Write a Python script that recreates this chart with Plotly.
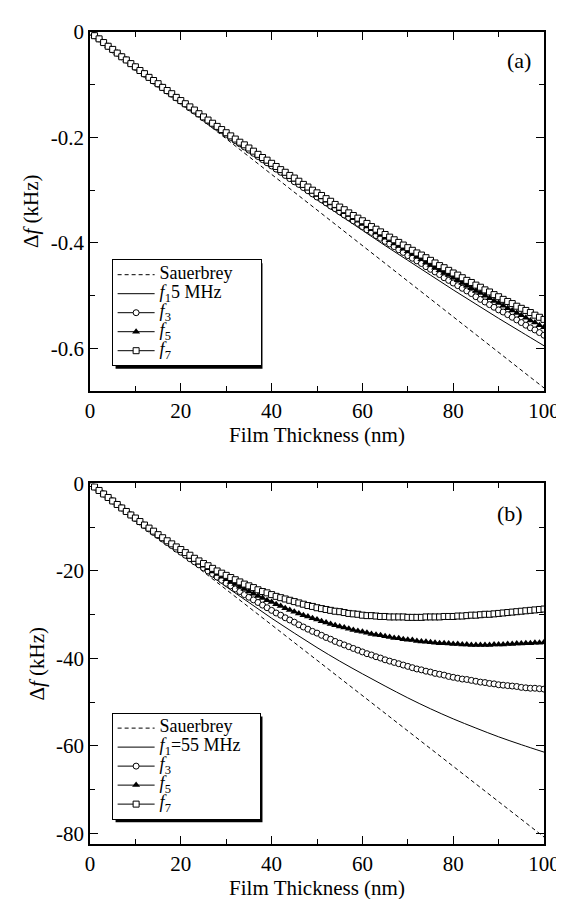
import plotly.graph_objects as go

# ---------------- data ----------------
thickness = list(range(0, 101))          # nm, marker series sampled every 1 nm
thick_f1 = list(range(0, 101, 5))        # nm, f1 line
thick_sauer = [0, 100]

# panel (a): kHz
a_sauerbrey = [0.0, -0.675]
a_f1 = [0, -0.034, -0.067, -0.100, -0.132, -0.164, -0.195, -0.227, -0.257, -0.288, -0.318,
        -0.347, -0.376, -0.405, -0.433, -0.461, -0.489, -0.516, -0.543, -0.569, -0.595]
a_f3 = [0, -0.007, -0.013, -0.020, -0.027, -0.034, -0.040, -0.047, -0.053, -0.060,
        -0.067, -0.073, -0.080, -0.086, -0.093, -0.099, -0.105, -0.112, -0.118, -0.125,
        -0.131, -0.137, -0.144, -0.150, -0.156, -0.163, -0.169, -0.175, -0.181, -0.187,
        -0.194, -0.200, -0.206, -0.212, -0.218, -0.224, -0.230, -0.236, -0.242, -0.248,
        -0.254, -0.260, -0.266, -0.272, -0.278, -0.284, -0.289, -0.295, -0.301, -0.307,
        -0.313, -0.318, -0.324, -0.330, -0.335, -0.341, -0.347, -0.352, -0.358, -0.363,
        -0.369, -0.375, -0.380, -0.386, -0.391, -0.397, -0.402, -0.407, -0.413, -0.418,
        -0.424, -0.429, -0.434, -0.439, -0.445, -0.450, -0.455, -0.460, -0.466, -0.471,
        -0.476, -0.481, -0.486, -0.491, -0.496, -0.502, -0.507, -0.512, -0.517, -0.522,
        -0.527, -0.531, -0.536, -0.541, -0.546, -0.551, -0.556, -0.561, -0.565, -0.570,
        -0.575]
a_f5 = [0, -0.007, -0.013, -0.020, -0.027, -0.033, -0.040, -0.047, -0.053, -0.060,
        -0.066, -0.073, -0.079, -0.086, -0.092, -0.099, -0.105, -0.111, -0.118, -0.124,
        -0.130, -0.137, -0.143, -0.149, -0.155, -0.162, -0.168, -0.174, -0.180, -0.186,
        -0.192, -0.198, -0.204, -0.210, -0.216, -0.222, -0.228, -0.234, -0.240, -0.246,
        -0.252, -0.257, -0.263, -0.269, -0.275, -0.280, -0.286, -0.292, -0.297, -0.303,
        -0.309, -0.314, -0.320, -0.325, -0.331, -0.336, -0.342, -0.347, -0.353, -0.358,
        -0.364, -0.369, -0.374, -0.380, -0.385, -0.390, -0.395, -0.401, -0.406, -0.411,
        -0.416, -0.421, -0.426, -0.431, -0.437, -0.442, -0.447, -0.452, -0.457, -0.461,
        -0.466, -0.471, -0.476, -0.481, -0.486, -0.491, -0.495, -0.500, -0.505, -0.510,
        -0.514, -0.519, -0.524, -0.528, -0.533, -0.537, -0.542, -0.547, -0.551, -0.556,
        -0.560]
a_f7 = [0, -0.007, -0.013, -0.020, -0.027, -0.033, -0.040, -0.047, -0.053, -0.060,
        -0.066, -0.073, -0.079, -0.086, -0.092, -0.098, -0.105, -0.111, -0.117, -0.124,
        -0.130, -0.136, -0.142, -0.148, -0.155, -0.161, -0.167, -0.173, -0.179, -0.185,
        -0.191, -0.197, -0.203, -0.209, -0.214, -0.220, -0.226, -0.232, -0.238, -0.243,
        -0.249, -0.255, -0.261, -0.266, -0.272, -0.277, -0.283, -0.289, -0.294, -0.300,
        -0.305, -0.310, -0.316, -0.321, -0.327, -0.332, -0.337, -0.343, -0.348, -0.353,
        -0.358, -0.363, -0.369, -0.374, -0.379, -0.384, -0.389, -0.394, -0.399, -0.404,
        -0.409, -0.414, -0.419, -0.423, -0.428, -0.433, -0.438, -0.443, -0.447, -0.452,
        -0.457, -0.461, -0.466, -0.471, -0.475, -0.480, -0.484, -0.489, -0.493, -0.498,
        -0.502, -0.507, -0.511, -0.515, -0.520, -0.524, -0.528, -0.532, -0.537, -0.541,
        -0.545]

# panel (b): kHz
b_sauerbrey = [0.0, -80.8]
b_f1 = [0, -4.0, -8.1, -12.0, -16.0, -19.8, -23.6, -27.2, -30.8, -34.2, -37.5,
        -40.6, -43.5, -46.3, -49.0, -51.5, -53.8, -55.9, -57.9, -59.7, -61.4]
b_f3 = [0, -0.8, -1.6, -2.4, -3.2, -4.0, -4.8, -5.6, -6.4, -7.2,
        -8.0, -8.8, -9.6, -10.4, -11.2, -11.9, -12.7, -13.5, -14.2, -15.0,
        -15.7, -16.4, -17.2, -17.9, -18.6, -19.3, -20.0, -20.7, -21.4, -22.1,
        -22.8, -23.4, -24.1, -24.7, -25.4, -26.0, -26.6, -27.2, -27.8, -28.4,
        -29.0, -29.6, -30.1, -30.7, -31.2, -31.7, -32.3, -32.8, -33.3, -33.8,
        -34.2, -34.7, -35.2, -35.6, -36.1, -36.5, -36.9, -37.3, -37.7, -38.1,
        -38.5, -38.9, -39.2, -39.6, -39.9, -40.3, -40.6, -40.9, -41.2, -41.5,
        -41.8, -42.1, -42.4, -42.6, -42.9, -43.1, -43.4, -43.6, -43.8, -44.1,
        -44.3, -44.5, -44.7, -44.8, -45.0, -45.2, -45.4, -45.5, -45.7, -45.8,
        -46.0, -46.1, -46.2, -46.3, -46.4, -46.6, -46.7, -46.8, -46.8, -46.9,
        -47.0]
b_f5 = [0, -0.8, -1.6, -2.4, -3.2, -4.0, -4.8, -5.6, -6.4, -7.2,
        -8.0, -8.8, -9.5, -10.3, -11.1, -11.8, -12.5, -13.3, -14.0, -14.7,
        -15.4, -16.1, -16.8, -17.5, -18.1, -18.8, -19.4, -20.1, -20.7, -21.3,
        -21.9, -22.5, -23.0, -23.6, -24.1, -24.7, -25.2, -25.7, -26.2, -26.7,
        -27.1, -27.6, -28.0, -28.5, -28.9, -29.3, -29.7, -30.1, -30.4, -30.8,
        -31.1, -31.5, -31.8, -32.1, -32.4, -32.7, -32.9, -33.2, -33.5, -33.7,
        -33.9, -34.1, -34.4, -34.6, -34.7, -34.9, -35.1, -35.3, -35.4, -35.6,
        -35.7, -35.8, -36.0, -36.1, -36.2, -36.3, -36.4, -36.5, -36.5, -36.6,
        -36.7, -36.7, -36.8, -36.8, -36.9, -36.9, -36.9, -36.9, -36.9, -36.8,
        -36.8, -36.8, -36.7, -36.7, -36.6, -36.6, -36.5, -36.5, -36.4, -36.4,
        -36.3]
b_f7 = [0, -0.8, -1.6, -2.4, -3.2, -4.0, -4.8, -5.6, -6.4, -7.2,
        -7.9, -8.7, -9.5, -10.2, -10.9, -11.7, -12.4, -13.1, -13.8, -14.5,
        -15.1, -15.8, -16.4, -17.1, -17.7, -18.3, -18.8, -19.4, -20.0, -20.5,
        -21.0, -21.5, -22.0, -22.5, -23.0, -23.4, -23.8, -24.3, -24.7, -25.0,
        -25.4, -25.8, -26.1, -26.4, -26.7, -27.0, -27.3, -27.6, -27.9, -28.1,
        -28.4, -28.6, -28.8, -29.0, -29.2, -29.3, -29.5, -29.7, -29.8, -29.9,
        -30.1, -30.2, -30.2, -30.3, -30.4, -30.4, -30.5, -30.5, -30.5, -30.5,
        -30.6, -30.6, -30.6, -30.6, -30.5, -30.5, -30.5, -30.5, -30.4, -30.4,
        -30.4, -30.3, -30.3, -30.2, -30.1, -30.1, -30.0, -29.9, -29.9, -29.8,
        -29.7, -29.6, -29.5, -29.4, -29.3, -29.2, -29.1, -29.0, -28.9, -28.8,
        -28.7]

# tick labels
x_ticks = [0, 20, 40, 60, 80, 100]
a_yticks = [0, -0.2, -0.4, -0.6]
a_ytext = ["0", "-0.2", "-0.4", "-0.6"]
b_yticks = [0, -20, -40, -60, -80]
b_ytext = ["0", "-20", "-40", "-60", "-80"]

NB = "\u00a0"


def big(s):
    return '<span style="font-size:18px">' + s + "</span>"


a_names = [big("Sauerbrey" + NB * 5), big("<i>f</i><sub>1</sub>5 MHz"), big("<i>f</i><sub>3</sub>"),
           big("<i>f</i><sub>5</sub>"), big("<i>f</i><sub>7</sub>")]
b_names = [big("Sauerbrey"), big("<i>f</i><sub>1</sub>=55 MHz" + NB * 3), big("<i>f</i><sub>3</sub>"),
           big("<i>f</i><sub>5</sub>"), big("<i>f</i><sub>7</sub>")]

FONT = "Liberation Serif"
BLACK = "black"

fig = go.Figure()


def add_panel(xa, ya, leg, names, sau, f1, f3, f5, f7):
    fig.add_trace(go.Scatter(x=thick_sauer, y=sau, mode="lines", name=names[0],
                             line=dict(color=BLACK, width=1, dash="4px,3px"),
                             xaxis=xa, yaxis=ya, legend=leg))
    fig.add_trace(go.Scatter(x=thick_f1, y=f1, mode="lines", name=names[1],
                             line=dict(color=BLACK, width=1, shape="spline"),
                             xaxis=xa, yaxis=ya, legend=leg))
    fig.add_trace(go.Scatter(x=thickness, y=f3, mode="lines+markers", name=names[2],
                             line=dict(color=BLACK, width=1),
                             marker=dict(symbol="circle", size=6, color="white",
                                         line=dict(color=BLACK, width=1)),
                             xaxis=xa, yaxis=ya, legend=leg))
    fig.add_trace(go.Scatter(x=thickness, y=f5, mode="lines+markers", name=names[3],
                             line=dict(color=BLACK, width=1),
                             marker=dict(symbol="triangle-up", size=7, color=BLACK,
                                         line=dict(color=BLACK, width=0)),
                             xaxis=xa, yaxis=ya, legend=leg))
    fig.add_trace(go.Scatter(x=thickness, y=f7, mode="lines+markers", name=names[4],
                             line=dict(color=BLACK, width=1),
                             marker=dict(symbol="square", size=6, color="white",
                                         line=dict(color=BLACK, width=1)),
                             xaxis=xa, yaxis=ya, legend=leg))


add_panel("x", "y", "legend", a_names, a_sauerbrey, a_f1, a_f3, a_f5, a_f7)
add_panel("x2", "y2", "legend2", b_names, b_sauerbrey, b_f1, b_f3, b_f5, b_f7)

axis_common = dict(
    showline=True, linecolor=BLACK, linewidth=1.5, mirror="ticks",
    ticks="inside", ticklen=8, tickwidth=1, tickcolor=BLACK,
    showgrid=False, zeroline=False,
    tickfont=dict(family=FONT, size=21, color=BLACK),
)
x_common = dict(axis_common, range=[0, 100], tickvals=x_ticks,
                minor=dict(dtick=10, ticks="inside", ticklen=5, tickwidth=1, tickcolor=BLACK),
                title=dict(text="Film Thickness (nm)", font=dict(family=FONT, size=21, color=BLACK),
                           standoff=4))

# font.size sets the row pitch; the visible text size comes from the span style
legend_style = dict(xanchor="left", yanchor="top",
                    bgcolor="white", bordercolor=BLACK, borderwidth=1,
                    font=dict(family=FONT, size=11, color=BLACK),
                    itemwidth=37, tracegroupgap=0)

fig.update_layout(
    width=564, height=899,
    paper_bgcolor="white", plot_bgcolor="white",
    margin=dict(l=82, r=20, t=23, b=54),
    font=dict(family=FONT, size=18, color=BLACK),
    showlegend=True,
    xaxis=dict(x_common, domain=[0, 1], anchor="y"),
    yaxis=dict(axis_common, domain=[0.5584, 1], anchor="x", range=[-0.68, 0],
               tickvals=a_yticks, ticktext=a_ytext,
               minor=dict(dtick=0.1, ticks="inside", ticklen=5, tickwidth=1, tickcolor=BLACK),
               title=dict(text="Δ<i>f</i> (kHz)", font=dict(family=FONT, size=21, color=BLACK),
                          standoff=6)),
    xaxis2=dict(x_common, domain=[0, 1], anchor="y2"),
    yaxis2=dict(axis_common, domain=[0, 0.444], anchor="x2", range=[-82.4, 0],
                tickvals=b_yticks, ticktext=b_ytext,
                minor=dict(dtick=10, ticks="inside", ticklen=5, tickwidth=1, tickcolor=BLACK),
                title=dict(text="Δ<i>f</i> (kHz)", font=dict(family=FONT, size=21, color=BLACK),
                           standoff=6)),
    legend=dict(legend_style, x=0.0476, y=0.7202),
    legend2=dict(legend_style, x=0.0476, y=0.1618),
    shapes=[
        dict(type="rect", xref="paper", yref="paper", x0=0.0563, x1=0.3799,
             y0=0.5852, y1=0.7153, fillcolor=BLACK, line=dict(width=0), layer="above"),
        dict(type="rect", xref="paper", yref="paper", x0=0.0563, x1=0.3799,
             y0=0.0268, y1=0.1569, fillcolor=BLACK, line=dict(width=0), layer="above"),
    ],
    annotations=[
        dict(text="(a)", x=94.4, y=-0.054, xref="x", yref="y", showarrow=False,
             font=dict(family=FONT, size=22, color=BLACK)),
        dict(text="(b)", x=92.6, y=-6.8, xref="x2", yref="y2", showarrow=False,
             font=dict(family=FONT, size=22, color=BLACK)),
    ],
)

fig.write_html("out.html")
